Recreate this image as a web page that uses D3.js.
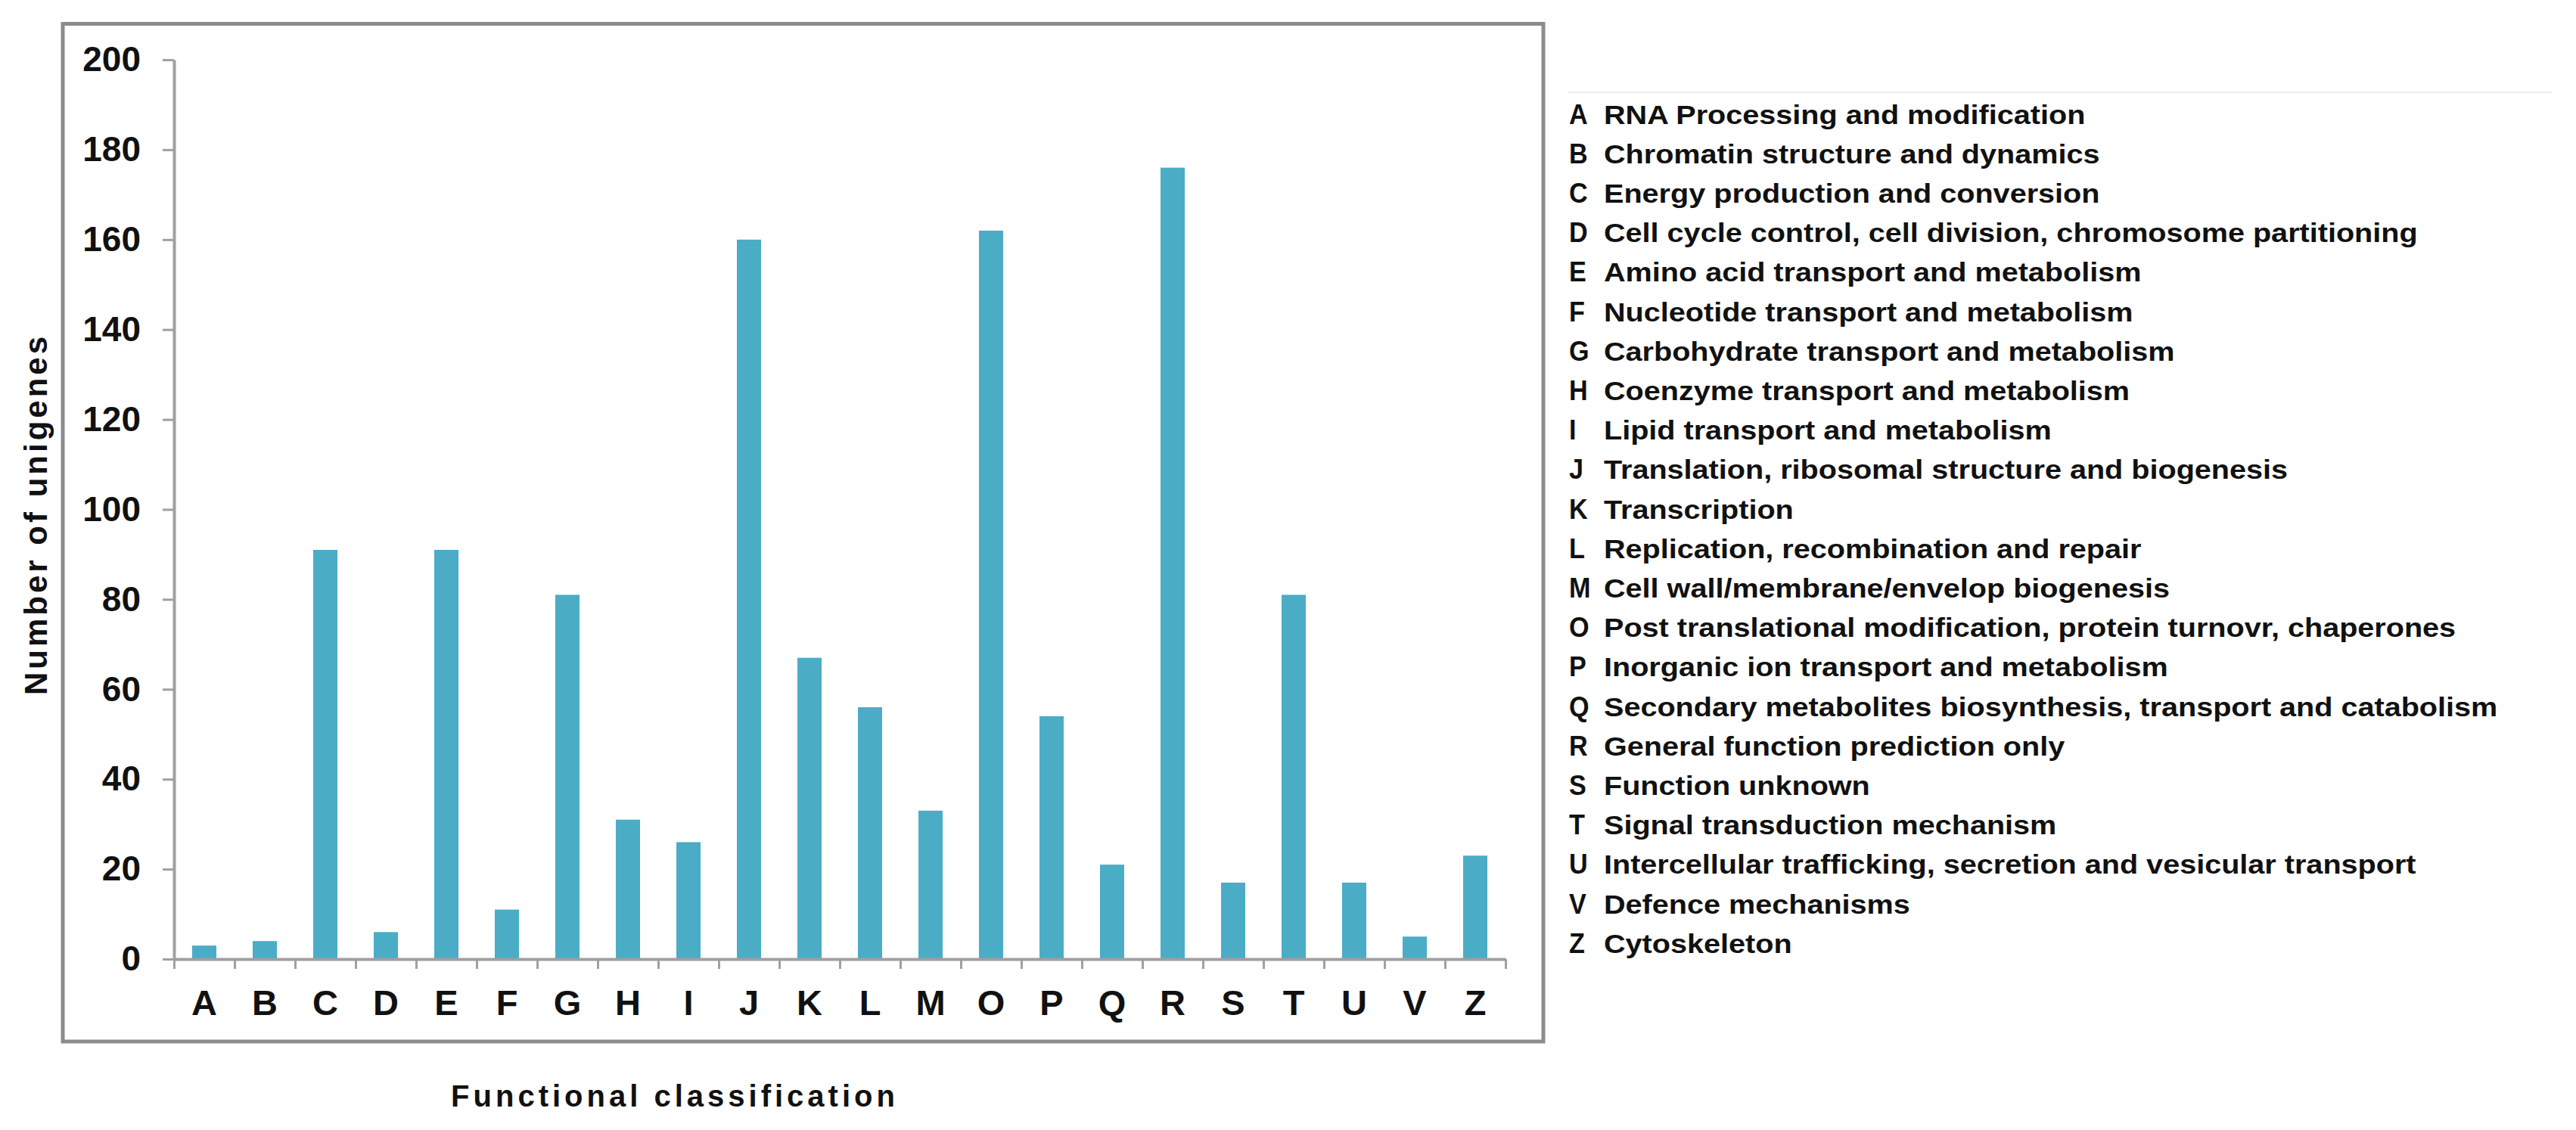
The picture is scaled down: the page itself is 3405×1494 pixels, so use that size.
<!DOCTYPE html>
<html>
<head>
<meta charset="utf-8">
<script src="https://cdnjs.cloudflare.com/ajax/libs/d3/7.8.5/d3.min.js"></script>
<style>
  body { margin: 0; background: #fff; }
  text { font-family: Arial, "Liberation Sans", sans-serif; font-weight: bold; fill: #111; }
</style>
</head>
<body>
<div id="chart"></div>
<script>
// COG functional classes and unigene counts
var categories = ["A","B","C","D","E","F","G","H","I","J","K","L","M","O","P","Q","R","S","T","U","V","Z"];
var counts = [3, 4, 91, 6, 91, 11, 81, 31, 26, 160, 67, 56, 33, 162, 54, 21, 176, 17, 81, 17, 5, 23];
var descriptions = [
  "RNA Processing and modification",
  "Chromatin structure and dynamics",
  "Energy production and conversion",
  "Cell cycle control, cell division, chromosome partitioning",
  "Amino acid transport and metabolism",
  "Nucleotide transport and metabolism",
  "Carbohydrate transport and metabolism",
  "Coenzyme transport and metabolism",
  "Lipid transport and metabolism",
  "Translation, ribosomal structure and biogenesis",
  "Transcription",
  "Replication, recombination and repair",
  "Cell wall/membrane/envelop biogenesis",
  "Post translational modification, protein turnovr, chaperones",
  "Inorganic ion transport and metabolism",
  "Secondary metabolites biosynthesis, transport and catabolism",
  "General function prediction only",
  "Function unknown",
  "Signal transduction mechanism",
  "Intercellular trafficking, secretion and vesicular transport",
  "Defence mechanisms",
  "Cytoskeleton"
];
var yTicks = [0, 20, 40, 60, 80, 100, 120, 140, 160, 180, 200];

var W = 3405, H = 1494;
var x0 = 230, x1 = 1990, yTop = 79, yBase = 1268;

var svg = d3.select("#chart").append("svg")
  .attr("width", W).attr("height", H);
svg.append("rect").attr("width", W).attr("height", H).attr("fill", "#fff");

// chart frame
svg.append("rect")
  .attr("x", 83).attr("y", 31.5)
  .attr("width", 2040 - 83).attr("height", 1377 - 31.5)
  .attr("fill", "none").attr("stroke", "#8c8c8c").attr("stroke-width", 5);

var x = d3.scaleBand().domain(categories).range([x0, x1]).paddingInner(0.6).paddingOuter(0.3);
var y = d3.scaleLinear().domain([0, 200]).range([yBase, yTop]);

// bars
svg.append("g").selectAll("rect")
  .data(categories)
  .join("rect")
  .attr("x", function(d) { return x(d); })
  .attr("width", x.bandwidth())
  .attr("y", function(d, i) { return y(counts[i]); })
  .attr("height", function(d, i) { return yBase - y(counts[i]); })
  .attr("fill", "#4bacc6");

// y axis
var yAxis = svg.append("g")
  .attr("transform", "translate(" + x0 + ",0)")
  .call(d3.axisLeft(y).tickValues(yTicks).tickSizeInner(15).tickSizeOuter(0).tickPadding(29));
yAxis.select(".domain").attr("stroke", "#a0a0a0").attr("stroke-width", 4);
yAxis.selectAll(".tick line").attr("stroke", "#a0a0a0").attr("stroke-width", 3);
yAxis.selectAll("text").attr("font-size", 46).attr("fill", "#111")
  .style("font-family", "Arial, 'Liberation Sans', sans-serif").style("font-weight", "bold");

// x axis: boundary ticks
var xi = d3.scaleLinear().domain([0, categories.length]).range([x0, x1]);
var xAxis = svg.append("g")
  .attr("transform", "translate(0," + yBase + ")")
  .call(d3.axisBottom(xi).tickValues(d3.range(categories.length + 1)).tickFormat("").tickSizeInner(13).tickSizeOuter(0));
xAxis.select(".domain").attr("stroke", "#a0a0a0").attr("stroke-width", 4);
xAxis.selectAll(".tick line").attr("stroke", "#a0a0a0").attr("stroke-width", 3);

// x axis: category labels
var xLab = svg.append("g")
  .attr("transform", "translate(0," + yBase + ")")
  .call(d3.axisBottom(x).tickSize(0).tickPadding(41));
xLab.select(".domain").remove();
xLab.selectAll("text").attr("font-size", 47).attr("fill", "#111")
  .style("font-family", "Arial, 'Liberation Sans', sans-serif").style("font-weight", "bold");

// axis titles
svg.append("text")
  .attr("x", 892).attr("y", 1463)
  .attr("text-anchor", "middle")
  .attr("font-size", 40)
  .attr("letter-spacing", 5)
  .text("Functional classification");

svg.append("text")
  .attr("transform", "translate(62,680) rotate(-90)")
  .attr("text-anchor", "middle")
  .attr("font-size", 42)
  .attr("letter-spacing", 4)
  .text("Number of unigenes");

// legend
var legTop = 163.5, legStep = 52.2;
svg.append("line")
  .attr("x1", 2073).attr("x2", 3373).attr("y1", 122).attr("y2", 122)
  .attr("stroke", "#ececec").attr("stroke-width", 2);

var leg = svg.append("g").selectAll("g")
  .data(categories)
  .join("g")
  .attr("transform", function(d, i) { return "translate(0," + (legTop + i * legStep) + ")"; });
leg.append("text")
  .attr("transform", "translate(2074,0) scale(0.95,1)")
  .attr("font-size", 36)
  .text(function(d) { return d; });
leg.append("text")
  .attr("transform", "translate(2120,0) scale(1.1,1)")
  .attr("font-size", 36)
  .text(function(d, i) { return descriptions[i]; });
</script>
</body>
</html>
